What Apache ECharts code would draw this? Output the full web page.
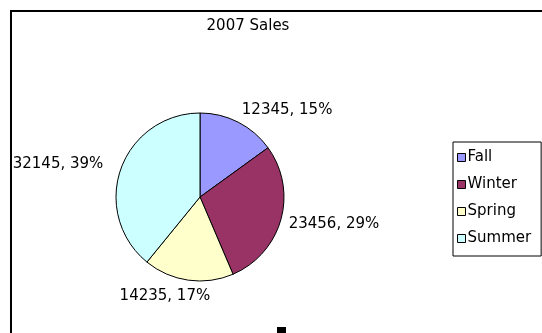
<!DOCTYPE html>
<html>
<head>
  <meta charset="utf-8">
  <title>2007 Sales</title>
  <script src="https://cdn.jsdelivr.net/npm/echarts@6/dist/echarts.min.js"></script>
  <style>
    html, body { margin: 0; padding: 0; background: #fff; }
    #main { width: 542px; height: 333px; }
  </style>
</head>
<body>
<div id="main"></div>
<script type="text/javascript">
  // data
  var seasons = ['Fall', 'Winter', 'Spring', 'Summer'];
  var sales = [12345, 23456, 14235, 32145];
  var colors = ['#9999ff', '#993366', '#ffffcc', '#ccffff'];

  var total = sales.reduce(function (a, b) { return a + b; }, 0);

  // nudges so labels sit where Excel put them
  var labelShift = [[-5, -5], [-5, 3], [28, 8], [-5, -2]];

  var chart = echarts.init(document.getElementById('main'));
  var font = '"DejaVu Sans", sans-serif';

  var option = {
    animation: false,
    title: {
      text: '2007 Sales',
      left: 243,
      top: 14,
      textAlign: 'center',
      textStyle: { fontFamily: font, fontSize: 15, fontWeight: 'normal', color: '#000' }
    },
    legend: {
      orient: 'vertical',
      left: 453,
      top: 142,
      padding: [8, 10, 10, 4],
      itemWidth: 8,
      itemHeight: 8,
      itemGap: 12,
      icon: 'rect',
      borderColor: '#000',
      borderWidth: 1,
      data: seasons,
      itemStyle: { borderColor: '#000', borderWidth: 1 },
      textStyle: { fontFamily: font, fontSize: 15, color: '#000', padding: [0, 0, 0, -3] }
    },
    graphic: [
      {
        type: 'rect',
        shape: { x: 11, y: 11, width: 700, height: 500 },
        style: { fill: 'none', stroke: '#000', lineWidth: 2 },
        silent: true
      },
      {
        type: 'rect',
        shape: { x: 277, y: 327, width: 9, height: 8 },
        style: { fill: '#000' },
        silent: true
      }
    ],
    series: [
      {
        type: 'pie',
        center: [200, 197],
        radius: 84,
        startAngle: 90,
        clockwise: true,
        avoidLabelOverlap: false,
        itemStyle: { borderColor: '#000', borderWidth: 1 },
        label: {
          position: 'outside',
          fontFamily: font,
          fontSize: 15,
          color: '#000',
          formatter: function (p) {
            return p.value + ', ' + Math.round(p.value / total * 100) + '%';
          }
        },
        labelLine: { show: false, length: 8, length2: 0 },
        labelLayout: function (p) {
          var s = labelShift[p.dataIndex];
          return { dx: s[0], dy: s[1] };
        },
        emphasis: { disabled: true },
        data: seasons.map(function (name, i) {
          return { name: name, value: sales[i], itemStyle: { color: colors[i] } };
        })
      }
    ]
  };

  chart.setOption(option);
</script>
</body>
</html>
